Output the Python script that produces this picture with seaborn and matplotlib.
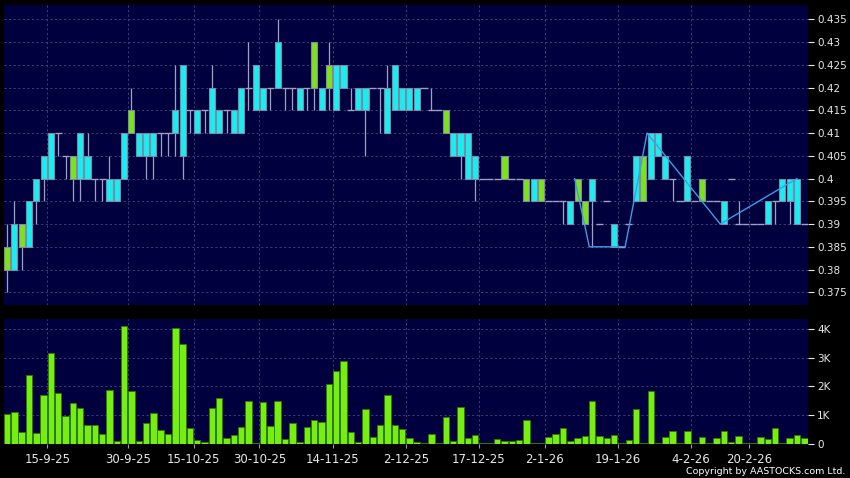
import numpy as np
import pandas as pd
import matplotlib
matplotlib.use("Agg")
import matplotlib.pyplot as plt
import seaborn as sns
from matplotlib.ticker import FuncFormatter, MultipleLocator

# =========================
# DATA (one value per trading day)
# =========================

opens = [
    .385, .380, .390, .385, .395, .400, .400, .410, .405, .405,
    .400, .400, .400, .400, .395, .395, .400, .415, .405, .405,
    .405, .410, .410, .410, .405, .415, .410, .415, .410, .410,
    .415, .410, .410, .420, .415, .415, .420, .420, .420, .420,
    .415, .420, .430, .415, .425, .415, .420, .415, .415, .415,
    .420, .420, .410, .415, .415, .415, .415, .420, .415, .415,
    .415, .405, .405, .400, .400, .400, .400, .400, .405, .400,
    .400, .400, .395, .400, .395, .395, .395, .390, .400, .395,
    .395, .390, .395, .385, .385, .390, .395, .405, .400, .405,
    .400, .400, .395, .395, .395, .400, .395, .395, .390, .400,
    .390, .390, .390, .390, .390, .395, .395, .395, .390, .390,
]
highs = [
    .390, .395, .390, .395, .400, .405, .410, .410, .405, .405,
    .410, .410, .400, .400, .405, .400, .410, .420, .410, .410,
    .410, .410, .410, .425, .425, .415, .415, .415, .425, .415,
    .415, .415, .420, .430, .425, .420, .420, .435, .420, .420,
    .420, .420, .430, .420, .430, .425, .425, .420, .420, .420,
    .420, .420, .425, .425, .420, .420, .420, .420, .420, .415,
    .415, .410, .410, .410, .405, .400, .400, .400, .405, .400,
    .400, .400, .400, .400, .395, .395, .395, .395, .400, .395,
    .400, .390, .395, .390, .385, .390, .405, .405, .410, .410,
    .405, .400, .395, .405, .395, .400, .395, .395, .395, .400,
    .395, .390, .390, .390, .395, .395, .400, .400, .400, .390,
]
lows = [
    .375, .380, .380, .385, .390, .395, .400, .405, .400, .395,
    .395, .400, .395, .395, .395, .395, .400, .410, .405, .400,
    .400, .405, .405, .405, .400, .410, .410, .410, .410, .410,
    .410, .410, .410, .415, .415, .415, .415, .420, .415, .415,
    .415, .415, .415, .415, .415, .415, .420, .415, .415, .405,
    .420, .410, .410, .415, .415, .415, .415, .420, .415, .415,
    .410, .405, .400, .400, .395, .400, .400, .400, .400, .400,
    .400, .395, .395, .395, .395, .395, .390, .390, .395, .390,
    .385, .390, .395, .385, .385, .390, .395, .395, .400, .405,
    .400, .395, .395, .395, .395, .395, .395, .395, .390, .400,
    .390, .390, .390, .390, .390, .390, .395, .390, .390, .390,
]
closes = [
    .380, .390, .385, .395, .400, .405, .410, .410, .405, .400,
    .410, .405, .400, .400, .400, .400, .410, .410, .410, .410,
    .410, .410, .410, .415, .425, .415, .415, .415, .420, .415,
    .415, .415, .420, .420, .425, .420, .420, .430, .420, .420,
    .420, .420, .420, .420, .420, .425, .425, .415, .420, .420,
    .420, .420, .420, .425, .420, .420, .420, .420, .415, .415,
    .410, .410, .410, .410, .405, .400, .400, .400, .400, .400,
    .400, .395, .400, .395, .395, .395, .395, .395, .395, .390,
    .400, .390, .395, .390, .385, .390, .405, .395, .410, .410,
    .405, .400, .395, .405, .395, .395, .395, .395, .395, .400,
    .390, .390, .390, .390, .395, .395, .400, .400, .400, .390,
]
# volume in thousands of shares
volume_k = [
    1.04, 1.11, 0.41, 2.38, 0.36, 1.70, 3.15, 1.75, 0.97, 1.43,
    1.23, 0.65, 0.63, 0.32, 1.88, 0.10, 4.12, 1.83, 0.07, 0.70,
    1.06, 0.46, 0.34, 4.02, 3.48, 0.53, 0.12, 0.05, 1.25, 1.60,
    0.20, 0.31, 0.57, 1.48, 0.02, 1.46, 0.61, 1.48, 0.17, 0.72,
    0.06, 0.57, 0.82, 0.74, 2.08, 2.54, 2.90, 0.39, 0.05, 1.19,
    0.23, 0.63, 1.69, 0.63, 0.52, 0.19, 0.05, 0.02, 0.32, 0.03,
    0.94, 0.08, 1.28, 0.19, 0.29, 0.03, 0.01, 0.14, 0.10, 0.10,
    0.13, 0.82, 0.01, 0.02, 0.23, 0.34, 0.53, 0.08, 0.19, 0.27,
    1.50, 0.27, 0.19, 0.30, 0.02, 0.12, 1.19, 0.02, 1.83, 0.02,
    0.22, 0.45, 0.01, 0.44, 0.01, 0.22, 0.01, 0.19, 0.44, 0.05,
    0.25, 0.01, 0.01, 0.22, 0.16, 0.53, 0.02, 0.19, 0.31, 0.19,
]

date_ticks = [5.5, 16.5, 25.5, 34.5, 44.5, 54.5, 64.5, 73.5, 83.5, 93.5, 101.5]
date_labels = ["15-9-25", "30-9-25", "15-10-25", "30-10-25", "14-11-25", "2-12-25",
               "17-12-25", "2-1-26", "19-1-26", "4-2-26", "20-2-26"]

# zigzag overlay (bar position, price)
zigzag_idx = [77.6, 79.6, 84.5, 87.5, 97.5, 108.0]
zigzag_val = [0.400, 0.385, 0.385, 0.410, 0.390, 0.400]

# =========================
# STYLE
# =========================

navy = "#00003e"
grid_c = "#4a4a82"
cyan = "#18eef0"
green = "#7ce21a"
edge_c = "#7f8aa8"
wick_c = "#a0a0c0"
vol_c = "#77ee11"
vol_edge = "#2c7a00"
txt_c = "#e8e8e8"

sns.set_theme(style="dark", rc={
    "figure.facecolor": "black",
    "axes.facecolor": navy,
    "axes.edgecolor": navy,
    "grid.color": grid_c,
})
plt.rcParams["font.family"] = ["DejaVu Sans"]

df = pd.DataFrame({"open": opens, "high": highs, "low": lows,
                   "close": closes, "volume": volume_k})
df["idx"] = np.arange(len(df))
up = df[df.close > df.open + 1e-9]
down = df[df.close < df.open - 1e-9]
flat = df[np.isclose(df.close, df.open)]

fig = plt.figure(figsize=(8.5, 4.78), dpi=100)
ax = fig.add_axes([4 / 850, 1 - 305 / 478, 804 / 850, 300 / 478])
axv = fig.add_axes([4 / 850, 1 - 443.5 / 478, 804 / 850, 124.5 / 478])

# =========================
# PRICE PANEL
# =========================

ax.vlines(df.idx, df.low, df.high, color=wick_c, lw=0.9, zorder=2)
ax.bar(up.idx, up.close - up.open, bottom=up.open, width=0.84,
       color=cyan, edgecolor=edge_c, linewidth=0.8, zorder=3)
ax.bar(down.idx, down.open - down.close, bottom=down.close, width=0.84,
       color=green, edgecolor=edge_c, linewidth=0.8, zorder=3)
ax.hlines(flat.close, flat.idx - 0.48, flat.idx + 0.48, color=wick_c, lw=1.0, zorder=3)

sns.lineplot(x=zigzag_idx, y=zigzag_val, ax=ax, color="#3c9ee6", lw=1.0,
             estimator=None, sort=False, zorder=4)

xlim = (-0.42, 109.5)
ax.set_xlim(*xlim)
ax.set_ylim(0.37221, 0.43814)
ax.yaxis.set_major_locator(MultipleLocator(0.005))
ax.yaxis.set_major_formatter(FuncFormatter(lambda v, p: f"{v:.3f}".rstrip("0").rstrip(".")))
ax.yaxis.tick_right()
ax.set_xticks(date_ticks)
ax.set_xticklabels([])
ax.tick_params(axis="x", length=0)
ax.tick_params(axis="y", colors=txt_c, labelcolor=txt_c, length=4, width=0.8,
               pad=2.5, labelsize=7.5, right=True, left=False)

# =========================
# VOLUME PANEL
# =========================

sns.barplot(data=df, x="idx", y="volume", native_scale=True, ax=axv,
            color=vol_c, saturation=1, width=0.88, edgecolor=vol_edge,
            linewidth=0.6, zorder=3)
axv.set_xlim(*xlim)
axv.set_ylim(0, 4.35)
axv.set_yticks([0, 1, 2, 3, 4])
axv.set_yticklabels(["0", "1K", "2K", "3K", "4K"])
axv.yaxis.tick_right()
axv.set_xticks(date_ticks)
axv.set_xticklabels(date_labels)
axv.set_xlabel("")
axv.set_ylabel("")
axv.tick_params(axis="x", colors="#9a9ab8", labelcolor=txt_c, length=3,
                width=0.8, pad=4, labelsize=8.5, bottom=True)
axv.tick_params(axis="y", colors=txt_c, labelcolor=txt_c, length=4, width=0.8,
                pad=2.5, labelsize=7.5, right=True, left=False)

for a in (ax, axv):
    a.grid(True, color=grid_c, linestyle=(0, (2.5, 3)), lw=0.6)
    a.set_axisbelow(True)
    for s in a.spines.values():
        s.set_visible(False)

fig.text(0.994, 0.0146, "Copyright by AASTOCKS.com Ltd.", ha="right", va="center",
         color="white", fontsize=6.8)

fig.savefig("out.png", dpi=100, facecolor="black")
plt.close(fig)
